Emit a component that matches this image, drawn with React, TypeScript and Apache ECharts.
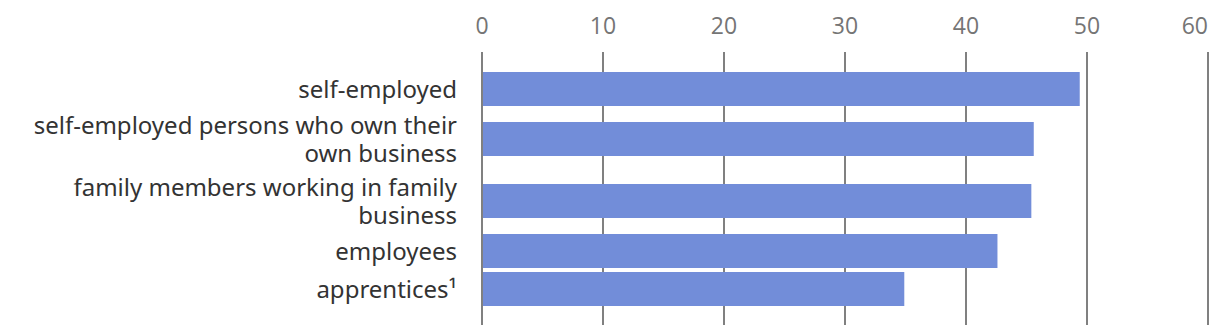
import React, { useEffect, useRef } from "react";
import * as echarts from "echarts";

const categories: string[] = [
  "self-employed",
  "self-employed persons who own their\nown business",
  "family members working in family\nbusiness",
  "employees",
  "apprentices\u00b9",
];
const values: number[] = [49.4, 45.6, 45.4, 42.6, 34.9];
const xTicks = { min: 0, max: 60, interval: 10 };

export default function App() {
  const ref = useRef<HTMLDivElement>(null);
  useEffect(() => {
    if (!ref.current) return;
    const chart = echarts.init(ref.current, undefined, { renderer: "svg" });
    // row heights depend on the number of label lines
    const rowHeights = categories.map((c) => (c.split("\n").length > 1 ? 62 : 38));
    const centers: number[] = [];
    let acc = 0;
    rowHeights.forEach((h) => {
      centers.push(acc + h / 2);
      acc += h;
    });
    const barH = 34;
    chart.setOption({
      animation: false,
      grid: { left: 482, right: 12, top: 52, bottom: 11 },
      xAxis: {
        type: "value",
        position: "top",
        min: xTicks.min,
        max: xTicks.max,
        interval: xTicks.interval,
        axisLine: { show: false },
        axisTick: { show: false },
        splitLine: { show: true, lineStyle: { color: "#808080", width: 2 } },
        axisLabel: {
          color: "#757575",
          fontSize: 23,
          margin: 16,
          fontFamily: "Open Sans",
          alignMaxLabel: "right",
        },
      },
      yAxis: {
        type: "value",
        inverse: true,
        min: -18,
        max: 255,
        show: false,
        splitLine: { show: false },
      },
      series: [
        {
          type: "custom",
          clip: false,
          data: values.map((v, i) => [v, i]),
          renderItem: (params: any, api: any) => {
            const v = api.value(0);
            const i = api.value(1);
            const cy = centers[i];
            const start = api.coord([0, cy]);
            const end = api.coord([v, cy]);
            return {
              type: "group",
              children: [
                {
                  type: "rect",
                  shape: {
                    x: start[0] + 1,
                    y: start[1] - barH / 2,
                    width: end[0] - start[0] - 1,
                    height: barH,
                  },
                  style: { fill: "#728dd9" },
                },
                {
                  type: "text",
                  x: start[0] - 25,
                  y: start[1] - 1,
                  style: {
                    text: categories[i],
                    align: "right",
                    verticalAlign: "middle",
                    fontSize: 24,
                    lineHeight: 28,
                    fontFamily: "Noto Sans",
                    fill: "#333333",
                  },
                },
              ],
            };
          },
        },
      ],
    });
    return () => chart.dispose();
  }, []);
  return (
    <div
      ref={ref}
      style={{ position: "fixed", left: 0, top: 0, width: 1220, height: 336, background: "#fff" }}
    />
  );
}
